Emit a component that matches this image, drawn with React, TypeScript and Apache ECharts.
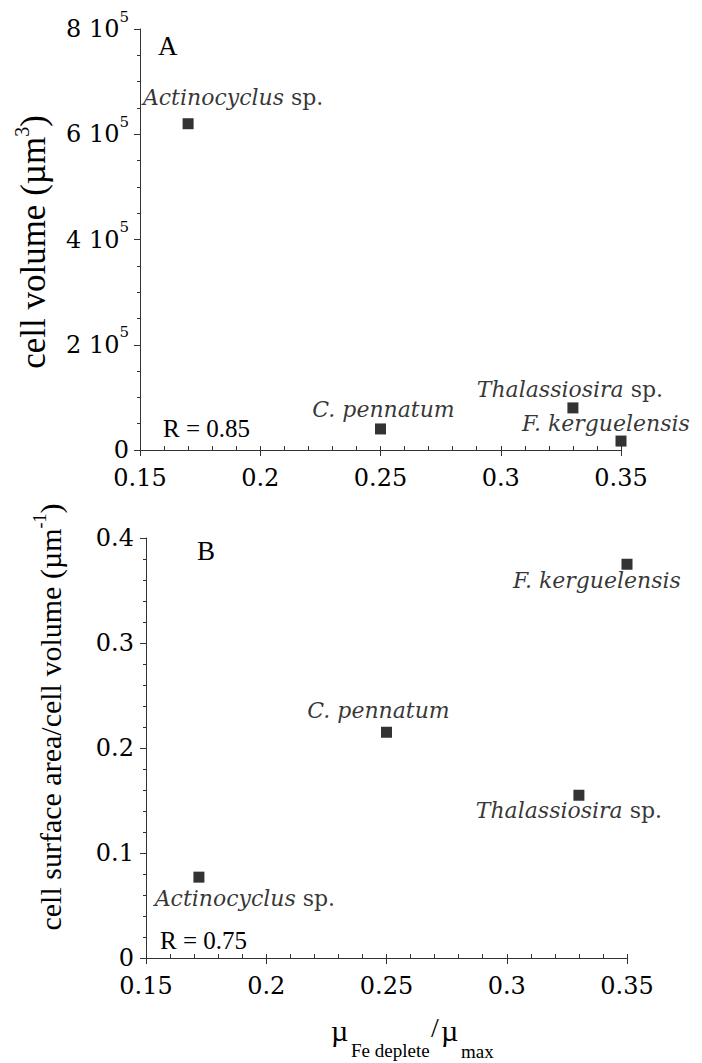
import React, { useEffect, useRef } from "react";
import * as echarts from "echarts";

// ---- data ----
const species = ["Actinocyclus", "C. pennatum", "Thalassiosira", "F. kerguelensis"];
const speciesSuffix = [" sp.", "", " sp.", ""];
const muRatioA = [0.17, 0.25, 0.33, 0.35];
const cellVolume = [620000, 40000, 80000, 17000];
const muRatioB = [0.172, 0.25, 0.33, 0.35];
const surfaceToVolume = [0.077, 0.215, 0.155, 0.375];
const xTicks = [0.15, 0.2, 0.25, 0.3, 0.35];
const yTicksA = [0, 200000, 400000, 600000, 800000];
const yTicksB = [0, 0.1, 0.2, 0.3, 0.4];
const panelLabels = ["A", "B"];
const correlations = ["R = 0.85", "R = 0.75"];

// ---- styling (label offsets in px) ----
const labelOffsetA = [[45, -26], [3, -19], [-3, -18], [-15, -18]];
const labelOffsetB = [[46, 21], [-8, -22], [-10, 15], [-30, 16]];

const FONT = "Liberation Serif";
const LFONT = "DejaVu Serif";
const AX = "#333";

const tickRich = {
  t: { fontSize: 24, lineHeight: 28, fontFamily: LFONT, color: "#000" },
};

function xAxes(grid: number) {
  return [
    {
      type: "value",
      gridIndex: grid,
      position: "bottom",
      min: xTicks[0],
      max: xTicks[xTicks.length - 1],
      interval: xTicks[1] - xTicks[0],
      axisLine: { show: true, onZero: false, lineStyle: { color: AX, width: 1 } },
      axisTick: { show: true, inside: false, length: 6, lineStyle: { color: AX } },
      axisLabel: {
        color: "#000",
        fontSize: 24,
        fontFamily: LFONT,
        margin: 14,
        formatter: (v: number) => `{t|${Math.round(v * 100) / 100}}`,
        rich: tickRich,
      },
      splitLine: { show: false },
    },
    {
      type: "value",
      gridIndex: grid,
      position: "bottom",
      min: xTicks[0],
      max: xTicks[xTicks.length - 1],
      interval: 0.01,
      axisLine: { show: false, onZero: false },
      axisTick: { show: true, inside: true, length: 4, lineStyle: { color: AX } },
      axisLabel: { show: false },
      splitLine: { show: false },
    },
  ];
}

export default function App() {
  const ref = useRef<HTMLDivElement>(null);
  useEffect(() => {
    if (!ref.current) return;
    const chart = echarts.init(ref.current, undefined, { renderer: "svg" });
    const labelRich = {
      i: { fontStyle: "italic", fontSize: 22, fontFamily: LFONT, color: "#000" },
      n: { fontStyle: "normal", fontSize: 22, fontFamily: LFONT, color: "#000" },
    };
    const fmt = (p: any) =>
      `{i|${species[p.dataIndex]}}` + (speciesSuffix[p.dataIndex] ? `{n|${speciesSuffix[p.dataIndex]}}` : "");
    const txt = (text: string, x: number, y: number, size: number, align = "left") => ({
      type: "text",
      x,
      y,
      style: { text, fill: "#000", fontSize: size, fontFamily: FONT, align, verticalAlign: "middle" },
    });
    const pointLabel = {
      show: true,
      position: "inside",
      align: "center",
      verticalAlign: "middle",
      color: "#000",
      fontFamily: LFONT,
      fontSize: 22,
      formatter: fmt,
      rich: labelRich,
    };

    chart.setOption({
      animation: false,
      backgroundColor: "#fff",
      grid: [
        { left: 140, top: 29, width: 481, height: 421, outerBoundsMode: "none" },
        { left: 146, top: 538, width: 481, height: 420, outerBoundsMode: "none" },
      ],
      xAxis: [...xAxes(0), ...xAxes(1)],
      yAxis: [
        {
          type: "value",
          gridIndex: 0,
          min: yTicksA[0],
          max: yTicksA[yTicksA.length - 1],
          interval: yTicksA[1] - yTicksA[0],
          axisLine: { show: true, onZero: false, lineStyle: { color: AX, width: 1 } },
          axisTick: { show: true, inside: false, length: 6, lineStyle: { color: AX } },
          minorTick: { show: true, splitNumber: 4, length: 3, lineStyle: { color: AX } },
          splitLine: { show: false },
          axisLabel: {
            margin: 11,
            color: "#000",
            fontSize: 24,
            fontFamily: LFONT,
            formatter: (v: number) => (v === 0 ? "{t|0}" : `{a|${v / 100000} 10}{s|5}`),
            rich: {
              t: { fontSize: 24, lineHeight: 28, fontFamily: LFONT, color: "#000" },
              a: { fontSize: 24, lineHeight: 40, fontFamily: LFONT, color: "#000" },
              s: { fontSize: 15, lineHeight: 15, verticalAlign: "top", fontFamily: LFONT, color: "#000" },
            },
          },
        },
        {
          type: "value",
          gridIndex: 1,
          min: yTicksB[0],
          max: yTicksB[yTicksB.length - 1],
          interval: yTicksB[1] - yTicksB[0],
          axisLine: { show: true, onZero: false, lineStyle: { color: AX, width: 1 } },
          axisTick: { show: true, inside: false, length: 6, lineStyle: { color: AX } },
          minorTick: { show: true, splitNumber: 5, length: 3, lineStyle: { color: AX } },
          splitLine: { show: false },
          axisLabel: {
            margin: 12,
            color: "#000",
            fontSize: 24,
            fontFamily: LFONT,
            formatter: (v: number) => `{t|${Math.round(v * 10) / 10}}`,
            rich: tickRich,
          },
        },
      ],
      series: [
        {
          type: "scatter",
          xAxisIndex: 0,
          yAxisIndex: 0,
          symbol: "rect",
          symbolSize: 11,
          itemStyle: { color: "#000" },
          data: species.map((s, i) => ({
            name: s,
            value: [muRatioA[i], cellVolume[i]],
            label: { offset: labelOffsetA[i] },
          })),
          label: pointLabel,
        },
        {
          type: "scatter",
          xAxisIndex: 2,
          yAxisIndex: 1,
          symbol: "rect",
          symbolSize: 11,
          itemStyle: { color: "#000" },
          data: species.map((s, i) => ({
            name: s,
            value: [muRatioB[i], surfaceToVolume[i]],
            label: { offset: labelOffsetB[i] },
          })),
          label: pointLabel,
        },
      ],
      graphic: [
        txt(panelLabels[0], 158, 46, 27),
        txt(panelLabels[1], 197, 551, 27),
        txt(correlations[0], 163, 428, 25),
        txt(correlations[1], 160, 940, 25),
        {
          type: "text",
          x: 33,
          y: 242,
          rotation: Math.PI / 2,
          style: {
            text: "{a|cell volume (µm}{s|3}{a|)}",
            align: "center",
            verticalAlign: "middle",
            fontFamily: FONT,
            rich: {
              a: { fontSize: 35, lineHeight: 42, fontFamily: FONT, fill: "#000", color: "#000" },
              s: { fontSize: 20, lineHeight: 20, verticalAlign: "top", fontFamily: FONT, fill: "#000", color: "#000" },
            },
          },
        },
        {
          type: "text",
          x: 50,
          y: 717,
          rotation: Math.PI / 2,
          style: {
            text: "{a|cell surface area/cell volume (µm}{s|-1}{a|)}",
            align: "center",
            verticalAlign: "middle",
            fontFamily: FONT,
            rich: {
              a: { fontSize: 30, lineHeight: 38, fontFamily: FONT, fill: "#000", color: "#000" },
              s: { fontSize: 18, lineHeight: 18, verticalAlign: "top", fontFamily: FONT, fill: "#000", color: "#000" },
            },
          },
        },
        txt("µ", 331, 1030, 30),
        txt("Fe deplete", 351, 1050, 19),
        txt("/", 431, 1027, 28),
        txt("µ", 441, 1030, 30),
        txt("max", 461, 1051, 19),
      ],
    });
    return () => chart.dispose();
  }, []);
  return (
    <div
      ref={ref}
      style={{ position: "absolute", left: 0, top: 0, width: 702, height: 1063, background: "#fff" }}
    />
  );
}
